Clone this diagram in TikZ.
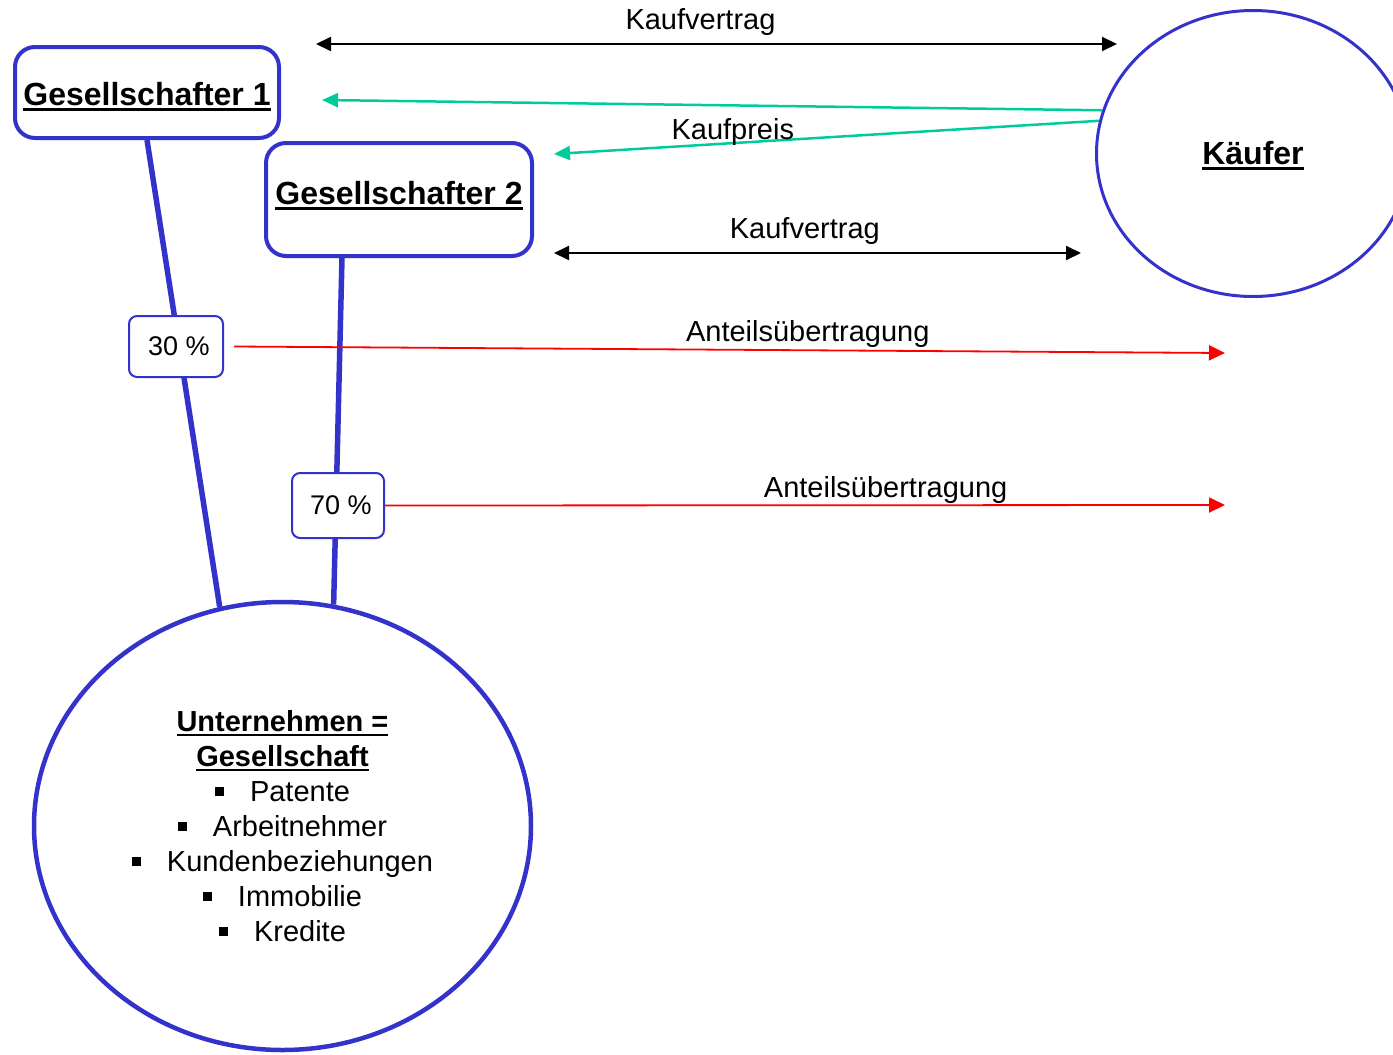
\documentclass[tikz,border=0pt]{standalone}
\usepackage{fontspec}
\setmainfont{Liberation Sans}
\usetikzlibrary{positioning,shapes.geometric,arrows.meta,backgrounds}
\definecolor{boxblue}{RGB}{51,51,204}
\definecolor{paygreen}{RGB}{0,204,153}
\newcommand{\undertext}[2][3pt]{\setbox0=\hbox{\textbf{#2}}\vtop{\copy0\kern2pt\hrule height #1}}
\newcommand{\sqitem}{\rule[5pt]{9pt}{9pt}\hspace{26pt}}

\begin{document}
\begin{tikzpicture}[x=1pt, y=-1pt, every node/.style={font=\fontsize{29}{35}\selectfont},
    partner/.style={rectangle, rounded corners=20pt, draw=boxblue, line width=4pt, fill=white, font=\fontsize{32}{38}\selectfont},
    share/.style={rectangle, rounded corners=8pt, draw=boxblue, line width=2pt, fill=white, font=\fontsize{27}{32}\selectfont},
    party/.style={ellipse, draw=boxblue, line width=3pt},
    holding/.style={draw=boxblue, line width=5.5pt},
    contract/.style={{Triangle[length=15pt,width=14pt]}-{Triangle[length=15pt,width=14pt]}, line width=2pt},
    payment/.style={-{Triangle[length=16pt,width=14pt]}, draw=paygreen, line width=2.5pt},
    transfer/.style={-{Triangle[length=16pt,width=15pt]}, draw=red, line width=1.8pt},
    note/.style={anchor=base, inner sep=0pt}]
    \useasboundingbox (0,0) rectangle (1393,1055);
    % partners, buyer and company
    \node[partner, minimum width=264pt, minimum height=91pt, text height=31pt] (g1) at (147,92.5) {\undertext{Gesellschafter 1}};
    \node[partner, minimum width=266pt, minimum height=113pt, text depth=13pt] (g2) at (399,199.5) {\undertext{Gesellschafter 2}};
    \node[party, minimum width=313pt, minimum height=286pt, text height=27pt, font=\fontsize{32}{38}\selectfont] (buyer) at (1253,153.5) {\undertext{Käufer}};
    \node[party, line width=4.5pt, minimum width=497pt, minimum height=448pt, align=center] (firm) at (282.5,826)
        {\undertext[2.5pt]{Unternehmen =}\\\undertext[2.5pt]{Gesellschaft}\\\sqitem Patente\\\sqitem Arbeitnehmer\\\sqitem Kundenbeziehungen\\\sqitem Immobilie\\\sqitem Kredite};
    \node[share, minimum width=94pt, minimum height=61pt, xshift=0pt] (p30) at (176,346.5) {\hspace{6pt}30 \%};
    \node[share, minimum width=92pt, minimum height=65pt] (p70) at (338,505.5) {\hspace{6pt}70 \%};
    % free arrow ends
    \coordinate (kv1l) at (316,44);
    \coordinate (kv1r) at (1117,44);
    \coordinate (kv2l) at (554,253);
    \coordinate (kv2r) at (1081,253);
    \coordinate (kp1) at (322,100);
    \coordinate (kp2) at (554,154);
    \coordinate (at1) at (1225,353);
    \coordinate (at2) at (1225,505);
    \draw[contract] (kv1l) -- node[note, pos=0.48, yshift=15pt] {Kaufvertrag} (kv1r);
    \draw[payment] (buyer.164) -- (kp1);
    \draw[payment] (buyer.168) -- node[note, pos=0.672, yshift=3.5pt] {Kaufpreis} (kp2);
    \draw[contract] (kv2l) -- node[note, pos=0.476, yshift=15pt] {Kaufvertrag} (kv2r);
    \draw[transfer] ([xshift=10pt]p30.east) -- node[note, pos=0.579, yshift=8.5pt] {Anteilsübertragung} (at1);
    \draw[transfer] (p70.east) -- node[note, pos=0.596, yshift=8pt] {Anteilsübertragung} (at2);
    % shareholdings
    \begin{scope}[on background layer]
        \draw[holding] (g1.south) -- (firm.106);
        \draw[holding] ([xshift=-57pt]g2.south) -- (firm.77);
    \end{scope}
\end{tikzpicture}
\end{document}
